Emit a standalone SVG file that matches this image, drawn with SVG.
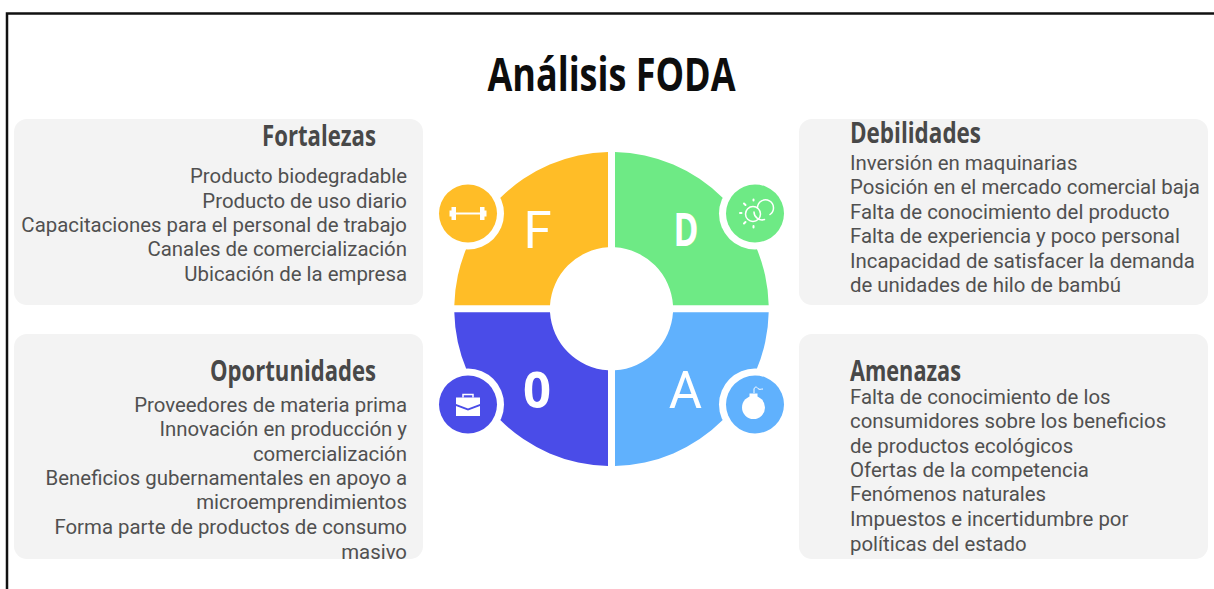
<svg xmlns="http://www.w3.org/2000/svg" width="1214" height="589" viewBox="0 0 1214 589">
<style>
.panel{fill:#f3f3f3}
.b{font-family:Roboto,"Liberation Sans",sans-serif;font-size:20.400px;fill:#505050}
.r{text-anchor:end}
.h{font-family:"Open Sans","Liberation Sans",sans-serif;font-weight:700;font-size:29px;fill:#484848}
.l{font-family:Roboto,"Liberation Sans",sans-serif;font-size:51px;fill:#fff;text-anchor:middle}
.ic{fill:none;stroke:#fff;stroke-width:2;stroke-linecap:round}
.if{fill:#fff}
</style>
<rect width="1214" height="589" fill="#fff"/>
<path d="M7 589V13.500H1214" fill="none" stroke="#111" stroke-width="2.500"/>
<text id="title" x="611.500" y="91" text-anchor="middle" textLength="248" lengthAdjust="spacingAndGlyphs" style="font-family:'Open Sans','Liberation Sans',sans-serif;font-weight:700;font-size:47px;fill:#0d0d0d">Análisis FODA</text>
<g id="fortalezas">
<rect class="panel" x="14" y="119" width="409" height="186" rx="13"/>
<text class="h" x="376" y="146" text-anchor="end" textLength="114" lengthAdjust="spacingAndGlyphs">Fortalezas</text>
<text class="b r" x="407" y="183">Producto biodegradable</text>
<text class="b r" x="407" y="208">Producto de uso diario</text>
<text class="b r" x="407" y="232">Capacitaciones para el personal de trabajo</text>
<text class="b r" x="407" y="256">Canales de comercialización</text>
<text class="b r" x="407" y="281">Ubicación de la empresa</text>
</g>
<g id="debilidades">
<rect class="panel" x="799" y="119" width="409" height="186" rx="13"/>
<text class="h" x="850" y="143" textLength="131" lengthAdjust="spacingAndGlyphs">Debilidades</text>
<text class="b" x="850" y="170">Inversión en maquinarias</text>
<text class="b" x="850" y="194">Posición en el mercado comercial baja</text>
<text class="b" x="850" y="219">Falta de conocimiento del producto</text>
<text class="b" x="850" y="243">Falta de experiencia y poco personal</text>
<text class="b" x="850" y="268">Incapacidad de satisfacer la demanda</text>
<text class="b" x="850" y="292">de unidades de hilo de bambú</text>
</g>
<g id="oportunidades">
<rect class="panel" x="14" y="334" width="409" height="225" rx="13"/>
<text class="h" x="376" y="381" text-anchor="end" textLength="166" lengthAdjust="spacingAndGlyphs">Oportunidades</text>
<text class="b r" x="407" y="412">Proveedores de materia prima</text>
<text class="b r" x="407" y="436">Innovación en producción y</text>
<text class="b r" x="407" y="461">comercialización</text>
<text class="b r" x="407" y="485">Beneficios gubernamentales en apoyo a</text>
<text class="b r" x="407" y="509">microemprendimientos</text>
<text class="b r" x="407" y="534">Forma parte de productos de consumo</text>
<text class="b r" x="407" y="559">masivo</text>
</g>
<g id="amenazas">
<rect class="panel" x="799" y="334" width="409" height="225" rx="13"/>
<text class="h" x="850" y="381" textLength="111" lengthAdjust="spacingAndGlyphs">Amenazas</text>
<text class="b" x="850" y="404">Falta de conocimiento de los</text>
<text class="b" x="850" y="428">consumidores sobre los beneficios</text>
<text class="b" x="850" y="453">de productos ecológicos</text>
<text class="b" x="850" y="477">Ofertas de la competencia</text>
<text class="b" x="850" y="501">Fenómenos naturales</text>
<text class="b" x="850" y="526">Impuestos e incertidumbre por</text>
<text class="b" x="850" y="551">políticas del estado</text>
</g>
<g id="quadrant-f">
<path d="M608 152A157 157 0 0 0 454.300 305.300H550A62 62 0 0 1 608 247.300Z" fill="#ffbd27"/>
<text class="l" x="537.500" y="247.500">F</text>
<circle cx="468" cy="213.500" r="36" fill="#fff"/>
<circle cx="468" cy="213.500" r="29" fill="#ffbd27"/>
<path class="ic" d="M453 213.500H483"/>
<path class="if" d="M451.500 207H456V220H451.500ZM480 207H484.500V220H480ZM449.500 210.500H451.500V216.500H449.500ZM484.500 210.500H486.500V216.500H484.500Z"/>
</g>
<g id="quadrant-d">
<path d="M615 152A157 157 0 0 1 768.700 305.300H673A62 62 0 0 0 615 247.300Z" fill="#6eea85"/>
<text x="686" y="246" text-anchor="middle" style="font-family:'Open Sans','Liberation Sans',sans-serif;font-weight:700;font-size:47px;fill:#fff" textLength="25" lengthAdjust="spacingAndGlyphs">D</text>
<circle cx="755" cy="213.500" r="36" fill="#fff"/>
<circle cx="755" cy="213.500" r="29" fill="#6eea85"/>
<circle class="ic" cx="753" cy="214" r="7.500" style="stroke-width:1.500"/>
<path class="ic" d="M757.500 207.500A8 8 0 1 1 770 214.500M764.500 219.500A8 8 0 0 1 754 212" style="stroke-width:1.500"/>
<path class="ic" d="M753.500 199.500V200.500M753.500 226V227.500M740 213H741.500M744 203.500L745.500 205M745.500 222L744 223.500"/>
</g>
<g id="quadrant-o">
<path d="M608 466A157 157 0 0 1 454.300 312.300H550A62 62 0 0 0 608 370.300Z" fill="#4a4ce8"/>
<text x="537" y="408" text-anchor="middle" style="font-family:'Open Sans','Liberation Sans',sans-serif;font-weight:700;font-size:50px;fill:#fff" textLength="28" lengthAdjust="spacingAndGlyphs">0</text>
<circle cx="468" cy="404.500" r="36" fill="#fff"/>
<circle cx="468" cy="404.500" r="29" fill="#4a4ce8"/>
<path class="if" d="M456 397.500H480V404L468 408.500L456 404ZM456 406L468 410.500L480 406V416H456Z"/>
<path d="M463 397.500V394.500H473V397.500" fill="none" stroke="#fff" stroke-width="1.500"/>
</g>
<g id="quadrant-a">
<path d="M615 466A157 157 0 0 0 768.700 312.300H673A62 62 0 0 1 615 370.300Z" fill="#60b1fd"/>
<text class="l" x="685.500" y="408">A</text>
<circle cx="755" cy="404.500" r="36" fill="#fff"/>
<circle cx="755" cy="404.500" r="29" fill="#60b1fd"/>
<circle class="if" cx="753.500" cy="407.500" r="11.500"/>
<rect class="if" x="749.500" y="393.500" width="8" height="5"/>
<path d="M754 393V389C755 386 757 387 758 388.500S761 389 763 389" fill="none" stroke="#fff" stroke-width="1"/>
</g>
</svg>
